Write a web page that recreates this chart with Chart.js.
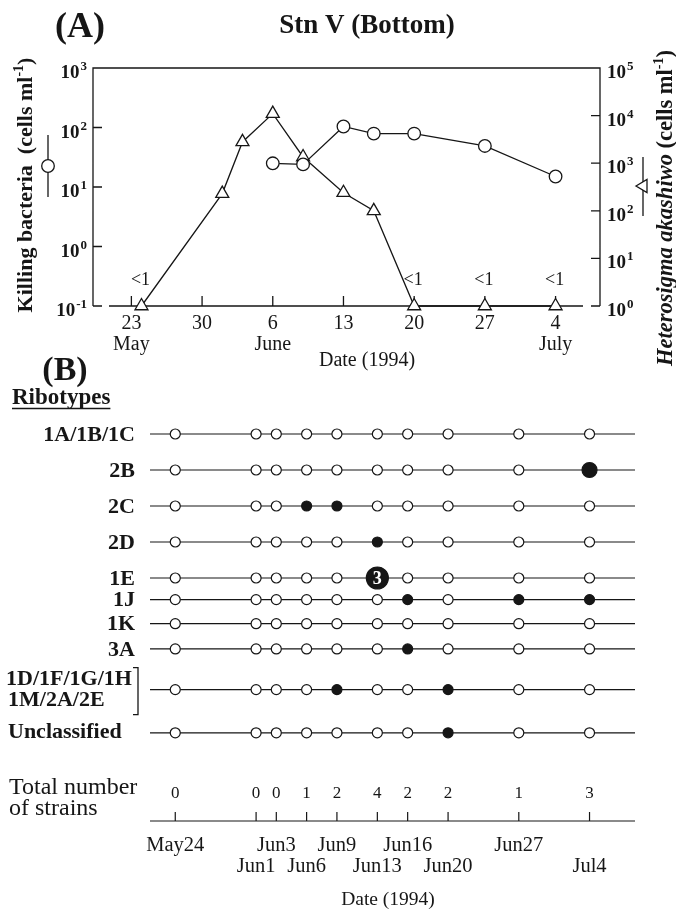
<!DOCTYPE html>
<html>
<head>
<meta charset="utf-8">
<title>Stn V (Bottom)</title>
<script src="https://cdn.jsdelivr.net/npm/chart.js@4.4.1/dist/chart.umd.min.js"></script>
<style>
  body { margin: 0; background: #fff; }
  #fig { position: relative; width: 676px; height: 909px; }
  #fig canvas { position: absolute; left: 0; }
</style>
</head>
<body>
<div id="fig">
  <canvas id="chartA" width="676" height="400" style="top:0"></canvas>
  <canvas id="chartB" width="676" height="569" style="top:340px"></canvas>
</div>
<script>
// ---- panel A data ----
const sampleDates = ['1994-05-24', '1994-06-01', '1994-06-03', '1994-06-06', '1994-06-09',
                     '1994-06-13', '1994-06-16', '1994-06-20', '1994-06-27', '1994-07-04'];
// Heterosigma akashiwo, cells/ml (right axis); "<1" samples are plotted at 10^0
const heterosigma = [1, 230, 2800, 11000, 1350, 240, 100, 1, 1, 1];
const belowDetection = [true, false, false, false, false, false, false, true, true, true];
// killing bacteria, cells/ml (left axis)
const killingDates = ['1994-06-06', '1994-06-09', '1994-06-13', '1994-06-16', '1994-06-20', '1994-06-27', '1994-07-04'];
const killingBacteria = [25, 24, 104, 79, 79, 49, 15];

const weekTicks = ['1994-05-23', '1994-05-30', '1994-06-06', '1994-06-13', '1994-06-20', '1994-06-27', '1994-07-04'];
const weekDayLabels = ['23', '30', '6', '13', '20', '27', '4'];
const weekMonthLabels = ['May', '', 'June', '', '', '', 'July'];
const leftExponents = [-1, 0, 1, 2, 3];
const rightExponents = [0, 1, 2, 3, 4, 5];

// ---- panel B data ----
const ribotypes = ['1A/1B/1C', '2B', '2C', '2D', '1E', '1J', '1K', '3A',
                   ['1D/1F/1G/1H', '1M/2A/2E'], 'Unclassified'];
const sampleLabels = ['May24', 'Jun1', 'Jun3', 'Jun6', 'Jun9', 'Jun13', 'Jun16', 'Jun20', 'Jun27', 'Jul4'];
// strains per ribotype (rows) and sampling date (columns)
const strainCounts = [
  [0, 0, 0, 0, 0, 0, 0, 0, 0, 0],
  [0, 0, 0, 0, 0, 0, 0, 0, 0, 2],
  [0, 0, 0, 1, 1, 0, 0, 0, 0, 0],
  [0, 0, 0, 0, 0, 1, 0, 0, 0, 0],
  [0, 0, 0, 0, 0, 3, 0, 0, 0, 0],
  [0, 0, 0, 0, 0, 0, 1, 0, 1, 1],
  [0, 0, 0, 0, 0, 0, 0, 0, 0, 0],
  [0, 0, 0, 0, 0, 0, 1, 0, 0, 0],
  [0, 0, 0, 0, 1, 0, 0, 1, 0, 0],
  [0, 0, 0, 0, 0, 0, 0, 1, 0, 0]
];
const totalStrains = [0, 0, 0, 1, 2, 4, 2, 2, 1, 3];

// ---- layout ----
const SERIF = '"Liberation Serif", "Times New Roman", serif';
const INK = '#161616';
const DAY0 = Date.UTC(1994, 4, 1);
const toDay = s => (Date.parse(s + 'T00:00:00Z') - DAY0) / 864e5;
// vertical slot of each ribotype row (rows are not evenly spaced in the figure)
const rowLevels = [0, 1, 2, 3, 4, 4.6, 5.27, 5.97, 7.1, 8.3];
const totalsLevel = 10;
const markSize = [5, 5, 7.5, 11];

function text(ctx, s, x, y, font, align, base) {
  ctx.font = font;
  ctx.textAlign = align || 'left';
  ctx.textBaseline = base || 'alphabetic';
  ctx.fillText(s, x, y);
}

function powerLabel(ctx, exp, x, y, side) {
  const big = 'bold 19px ' + SERIF, small = 'bold 13px ' + SERIF;
  ctx.font = big; const wb = ctx.measureText('10').width;
  ctx.font = small; const ws = ctx.measureText(String(exp)).width;
  const x0 = side === 'left' ? x - wb - ws - 1 : x;
  text(ctx, '10', x0, y + 10, big);
  text(ctx, String(exp), x0 + wb + 1, y + 2, small);
}

function rotatedTitle(ctx, parts, cx, cy) {
  ctx.save();
  ctx.translate(cx, cy);
  ctx.rotate(-Math.PI / 2);
  let total = 0;
  parts.forEach(p => { ctx.font = p.font; p.w = ctx.measureText(p.t).width; total += p.w; });
  let x = -total / 2;
  ctx.textAlign = 'left';
  ctx.textBaseline = 'middle';
  parts.forEach(p => { ctx.font = p.font; ctx.fillText(p.t, x, p.raise ? -p.raise : 0); x += p.w; });
  ctx.restore();
}

const panelA = {
  id: 'panelA',
  beforeDatasetsDraw(chart) {
    const { ctx, chartArea: a, scales } = chart;
    ctx.save();
    ctx.strokeStyle = INK;
    ctx.lineWidth = 1.3;
    ctx.beginPath();
    ctx.moveTo(a.left, a.bottom); ctx.lineTo(a.left, a.top);
    ctx.lineTo(a.right, a.top); ctx.lineTo(a.right, a.bottom);
    ctx.moveTo(a.left + 16, a.bottom); ctx.lineTo(a.right - 17, a.bottom);
    leftExponents.forEach(e => {
      const y = scales.yL.getPixelForValue(Math.pow(10, e));
      ctx.moveTo(a.left, y); ctx.lineTo(a.left + 9, y);
    });
    rightExponents.forEach(e => {
      const y = scales.yR.getPixelForValue(Math.pow(10, e));
      ctx.moveTo(a.right, y); ctx.lineTo(a.right - 9, y);
    });
    weekTicks.forEach(d => {
      const x = scales.x.getPixelForValue(toDay(d));
      ctx.moveTo(x, a.bottom); ctx.lineTo(x, a.bottom - 10);
    });
    ctx.stroke();
    ctx.restore();
  },
  afterDraw(chart) {
    const { ctx, chartArea: a, scales } = chart;
    ctx.save();
    ctx.fillStyle = INK;
    text(ctx, '(A)', 80, 28, 'bold 36px ' + SERIF, 'center', 'middle');
    text(ctx, 'Stn V (Bottom)', 367, 26, 'bold 27px ' + SERIF, 'center', 'middle');

    leftExponents.forEach(e => powerLabel(ctx, e, a.left - 6, scales.yL.getPixelForValue(Math.pow(10, e)), 'left'));
    rightExponents.forEach(e => powerLabel(ctx, e, a.right + 7, scales.yR.getPixelForValue(Math.pow(10, e)), 'right'));

    weekTicks.forEach((d, i) => {
      const x = scales.x.getPixelForValue(toDay(d));
      text(ctx, weekDayLabels[i], x, a.bottom + 23, '20px ' + SERIF, 'center');
      if (weekMonthLabels[i]) text(ctx, weekMonthLabels[i], x, a.bottom + 44, '20px ' + SERIF, 'center');
    });
    text(ctx, 'Date (1994)', 367, a.bottom + 60, '20px ' + SERIF, 'center');

    // "<1" markers above undetected samples
    const meta = chart.getDatasetMeta(1);
    belowDetection.forEach((b, i) => {
      if (!b) return;
      const el = meta.data[i];
      text(ctx, '<1', el.x - 1, el.y - 21, '18px ' + SERIF, 'center');
    });

    // axis titles
    const tb = 'bold 22px ' + SERIF, sup = 'bold 14px ' + SERIF;
    rotatedTitle(ctx, [
      { t: 'Killing bacteria  (cells ml', font: tb },
      { t: '-1', font: sup, raise: 7 },
      { t: ')', font: tb }
    ], 26, 185);
    const tr = 'bold 22.5px ' + SERIF;
    rotatedTitle(ctx, [
      { t: 'Heterosigma akashiwo', font: 'italic ' + tr },
      { t: ' (cells ml', font: tr },
      { t: '-1', font: 'bold 14px ' + SERIF, raise: 7 },
      { t: ')', font: tr }
    ], 666, 208);

    // legend keys beside the titles
    ctx.strokeStyle = INK;
    ctx.lineWidth = 1.3;
    ctx.beginPath();
    ctx.moveTo(48, 135); ctx.lineTo(48, 197);
    ctx.moveTo(643, 157); ctx.lineTo(643, 216);
    ctx.stroke();
    ctx.fillStyle = '#fff';
    ctx.beginPath(); ctx.arc(48, 166, 6.3, 0, Math.PI * 2); ctx.fill(); ctx.stroke();
    ctx.beginPath();
    ctx.moveTo(636, 186); ctx.lineTo(647, 179.5); ctx.lineTo(647, 192.5); ctx.closePath();
    ctx.fill(); ctx.stroke();
    ctx.restore();
  }
};

new Chart(document.getElementById('chartA'), {
  type: 'line',
  data: {
    datasets: [
      {
        label: 'Killing bacteria',
        data: killingDates.map((d, i) => ({ x: toDay(d), y: killingBacteria[i] })),
        yAxisID: 'yL',
        borderColor: INK, borderWidth: 1.3,
        pointStyle: 'circle', pointRadius: 6.3, pointHoverRadius: 6.3,
        pointBackgroundColor: '#fff', pointBorderColor: INK, pointBorderWidth: 1.3,
        clip: false
      },
      {
        label: 'Heterosigma akashiwo',
        data: sampleDates.map((d, i) => ({ x: toDay(d), y: heterosigma[i] })),
        yAxisID: 'yR',
        borderColor: INK, borderWidth: 1.3,
        pointStyle: 'triangle', pointRadius: 7.5, pointHoverRadius: 7.5,
        pointBackgroundColor: '#fff', pointBorderColor: INK, pointBorderWidth: 1.3,
        clip: false
      }
    ]
  },
  options: {
    responsive: false,
    animation: false,
    events: [],
    layout: { padding: { left: 93, right: 76, top: 68, bottom: 94 } },
    plugins: { legend: { display: false }, tooltip: { enabled: false } },
    scales: {
      x: { type: 'linear', display: false, min: toDay('1994-05-23') - 3.8, max: toDay('1994-07-04') + 4.4 },
      yL: { type: 'logarithmic', display: false, position: 'left', min: 0.1, max: 1000 },
      yR: { type: 'logarithmic', display: false, position: 'right', min: 1, max: 100000 }
    }
  },
  plugins: [panelA]
});

// ---- panel B ----
const ribotypePoints = [];
strainCounts.forEach((row, r) => row.forEach((n, c) => {
  ribotypePoints.push({ x: toDay(sampleDates[c]), y: rowLevels[r], n: n });
}));

const panelB = {
  id: 'panelB',
  beforeDatasetsDraw(chart) {
    const { ctx, chartArea: a, scales } = chart;
    ctx.save();
    ctx.strokeStyle = INK;
    ctx.lineWidth = 1.2;
    ctx.beginPath();
    rowLevels.forEach(v => {
      const y = scales.y.getPixelForValue(v);
      ctx.moveTo(a.left, y); ctx.lineTo(a.right, y);
    });
    ctx.moveTo(a.left, a.bottom); ctx.lineTo(a.right, a.bottom);
    sampleDates.forEach(d => {
      const x = scales.x.getPixelForValue(toDay(d));
      ctx.moveTo(x, a.bottom); ctx.lineTo(x, a.bottom - 9);
    });
    ctx.stroke();
    ctx.restore();
  },
  afterDatasetsDraw(chart) {
    const { ctx } = chart;
    ctx.save();
    ctx.fillStyle = '#fff';
    chart.getDatasetMeta(0).data.forEach((el, i) => {
      const n = ribotypePoints[i].n;
      if (n >= 3) text(ctx, String(n), el.x, el.y + 1, 'bold 18px ' + SERIF, 'center', 'middle');
    });
    ctx.restore();
  },
  afterDraw(chart) {
    const { ctx, chartArea: a, scales } = chart;
    ctx.save();
    ctx.fillStyle = INK;
    ctx.strokeStyle = INK;
    text(ctx, '(B)', 65, 31, 'bold 34px ' + SERIF, 'center', 'middle');
    text(ctx, 'Ribotypes', 12, 58, 'bold 23px ' + SERIF, 'left', 'middle');
    ctx.font = 'bold 23px ' + SERIF;
    const rw = ctx.measureText('Ribotypes').width;
    ctx.lineWidth = 1.3;
    ctx.beginPath(); ctx.moveTo(12, 68.5); ctx.lineTo(12 + rw, 68.5); ctx.stroke();

    const lf = 'bold 22px ' + SERIF;
    ribotypes.forEach((lab, i) => {
      const y = scales.y.getPixelForValue(rowLevels[i]);
      if (Array.isArray(lab)) {
        text(ctx, lab[0], 6, y - 10, lf, 'left', 'middle');
        text(ctx, lab[1], 8, y + 11, lf, 'left', 'middle');
        ctx.beginPath();
        ctx.moveTo(133, y - 22); ctx.lineTo(138, y - 22); ctx.lineTo(138, y + 25); ctx.lineTo(133, y + 25);
        ctx.stroke();
      } else if (lab === 'Unclassified') {
        text(ctx, lab, 8, y, lf, 'left', 'middle');
      } else {
        text(ctx, lab, 135, y + 1, lf, 'right', 'middle');
      }
    });

    const ty = scales.y.getPixelForValue(totalsLevel);
    text(ctx, 'Total number', 9, ty - 6, '24px ' + SERIF, 'left', 'middle');
    text(ctx, 'of strains', 9, ty + 15, '24px ' + SERIF, 'left', 'middle');
    sampleDates.forEach((d, i) => {
      const x = scales.x.getPixelForValue(toDay(d));
      text(ctx, String(totalStrains[i]), x, ty, '17px ' + SERIF, 'center', 'middle');
      text(ctx, sampleLabels[i], x, a.bottom + (i % 2 ? 46 : 25), '20.5px ' + SERIF, 'center', 'middle');
    });
    text(ctx, 'Date (1994)', 388, a.bottom + 79, '19.5px ' + SERIF, 'center', 'middle');
    ctx.restore();
  }
};

new Chart(document.getElementById('chartB'), {
  type: 'scatter',
  data: {
    datasets: [{
      label: 'Strains',
      data: ribotypePoints,
      pointRadius: c => c.raw ? markSize[c.raw.n] : 5,
      pointHoverRadius: c => c.raw ? markSize[c.raw.n] : 5,
      pointBackgroundColor: c => (c.raw && c.raw.n > 0) ? INK : '#fff',
      pointBorderColor: INK,
      pointBorderWidth: 1.2,
      clip: false
    }]
  },
  options: {
    responsive: false,
    animation: false,
    events: [],
    layout: { padding: { left: 150, right: 41, top: 94, bottom: 88 } },
    plugins: { legend: { display: false }, tooltip: { enabled: false } },
    scales: {
      x: { type: 'linear', display: false, min: toDay('1994-05-24') - 2.5, max: toDay('1994-07-04') + 4.5 },
      y: { type: 'linear', display: false, reverse: true, min: 0, max: 10.75 }
    }
  },
  plugins: [panelB]
});
</script>
</body>
</html>
